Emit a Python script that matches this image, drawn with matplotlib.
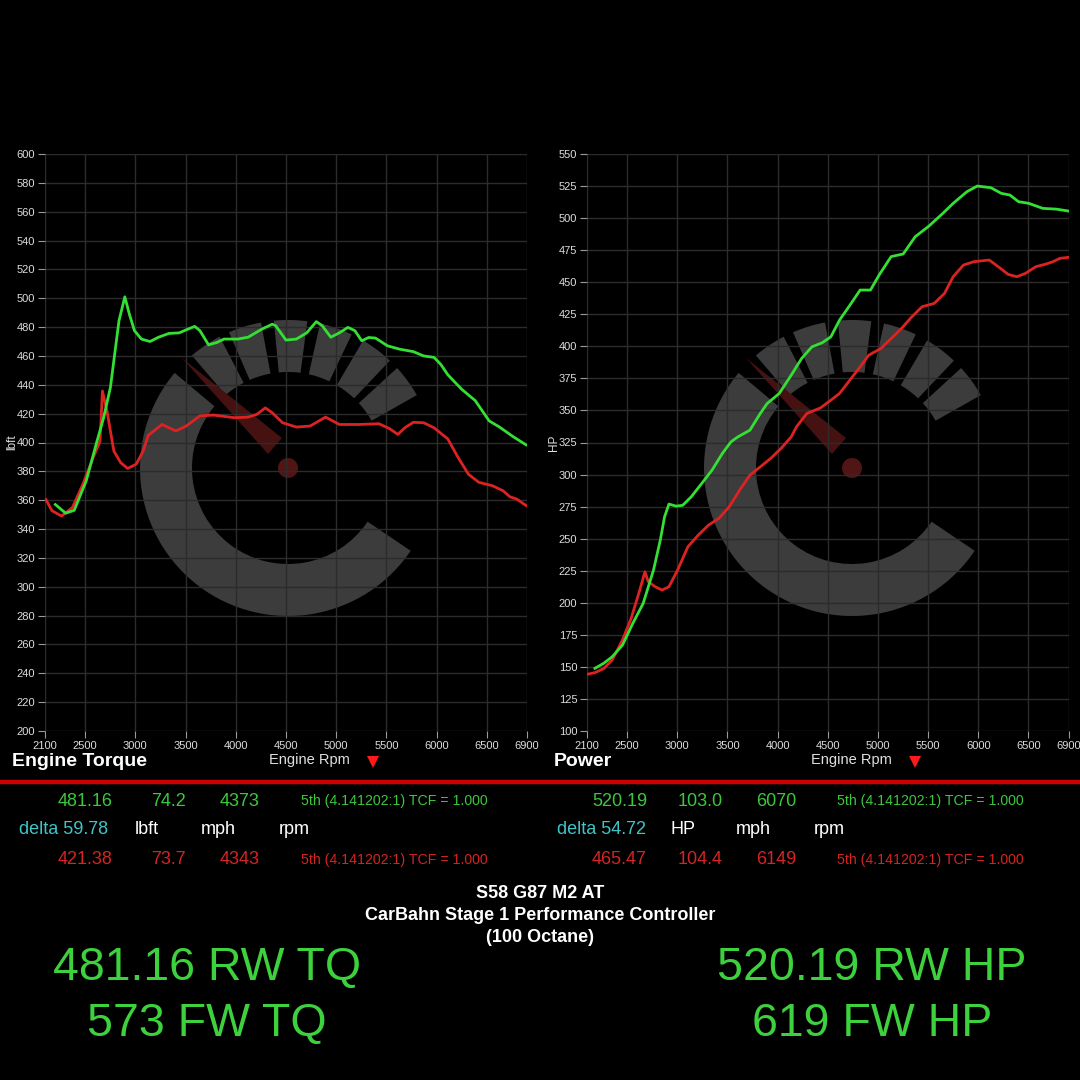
import matplotlib
matplotlib.use("Agg")
import matplotlib.pyplot as plt
from matplotlib import font_manager
from matplotlib.patches import Wedge, Circle, Polygon
import numpy as np

# ---------------- data ----------------
rpm_ticks = [2100, 2500, 3000, 3500, 4000, 4500, 5000, 5500, 6000, 6500, 6900]
tq_ticks = list(range(200, 601, 20))
hp_ticks = list(range(100, 551, 25))

tq_green_rpm = [2203, 2306, 2391, 2511, 2614, 2683, 2751, 2837, 2895, 2940, 2991, 3060, 3146, 3231, 3334,
                3437, 3523, 3591, 3643, 3729, 3814, 3883, 4020, 4123, 4260, 4363, 4397, 4500, 4603, 4706,
                4802, 4860, 4946, 5031, 5117, 5186, 5254, 5323, 5391, 5511, 5631, 5768, 5871, 5974, 6043,
                6111, 6248, 6385, 6523, 6626, 6763, 6890]
tq_green = [357, 351, 353, 373.5, 400, 417, 438, 484.5, 501, 489, 477.5, 471.7, 470, 473, 475.6,
            476, 478.6, 480.5, 477.5, 467.7, 469.4, 471.7, 471.7, 473, 478.6, 482, 481, 471, 471.7, 476,
            483.8, 481, 473, 476, 479.8, 477.5, 470.5, 472.8, 472.4, 467, 464.7, 463, 460, 459, 454,
            447, 437, 429, 415, 410.7, 404, 398.4]

tq_red_rpm = [2110, 2168, 2264, 2374, 2477, 2580, 2648, 2672, 2717, 2786, 2854, 2923, 3009, 3077, 3129,
              3266, 3403, 3506, 3643, 3780, 3986, 4123, 4209, 4294, 4363, 4466, 4603, 4740, 4894, 5031,
              5220, 5426, 5529, 5614, 5683, 5768, 5871, 5974, 6111, 6214, 6317, 6420, 6557, 6660, 6729,
              6797, 6893]
tq_red = [360.4, 352.8, 349, 355, 371, 389.6, 401, 435.7, 421.8, 394, 386, 382, 385, 394, 405,
          412.5, 408, 411.4, 418.5, 419, 417.2, 417.6, 419.5, 424, 420.6, 413.7, 410.7, 411.4, 417.6, 412.5,
          412.5, 413, 409.7, 405.6, 410.2, 414, 413.7, 410.2, 402.5, 389.6, 378, 372.4, 370, 366.6, 362.4,
          360.8, 356.2]

hp_green_rpm = [2179, 2265, 2351, 2454, 2557, 2660, 2763, 2831, 2873, 2917, 2986, 3054, 3140, 3243, 3346,
                3449, 3535, 3604, 3724, 3827, 3896, 4016, 4136, 4239, 4342, 4445, 4531, 4617, 4720, 4823,
                4926, 5012, 5132, 5252, 5372, 5509, 5647, 5750, 5887, 5990, 6127, 6230, 6316, 6402, 6505,
                6643, 6780, 6900]
hp_green = [148.9, 152.7, 157.9, 167, 184, 199.5, 225.5, 249, 267, 277, 275.4, 276, 282.7, 293, 303.4,
            316.4, 325.5, 329.4, 334.6, 347.6, 355.4, 363.2, 377.5, 390.5, 399.6, 402.8, 407.4, 420.4, 432, 443.9,
            443.9, 455.6, 470, 472, 485.5, 493.8, 503.7, 511.5, 520.6, 525, 523.7, 519.3, 518, 512.8, 511.5,
            507.6, 507, 505.5]

hp_red_rpm = [2100, 2179, 2265, 2351, 2454, 2540, 2626, 2677, 2711, 2780, 2849, 2917, 3003, 3106, 3209,
              3312, 3415, 3518, 3621, 3724, 3827, 3930, 4033, 4136, 4188, 4291, 4428, 4531, 4617, 4720,
              4823, 4909, 5029, 5132, 5235, 5338, 5441, 5561, 5664, 5750, 5853, 5956, 6110, 6213, 6299,
              6385, 6471, 6574, 6677, 6745, 6814, 6900]
hp_red = [144.2, 145.5, 148.6, 155.3, 171, 187.8, 209.9, 224.2, 216.4, 212.5, 209.9, 212.5, 225.5, 243.7, 252.8,
          260.6, 265.8, 274.9, 287.8, 299.5, 306, 312.5, 320.3, 329.4, 337.2, 347.6, 352, 358, 363.2, 373.6,
          384, 393.1, 398.3, 406.1, 413.9, 423, 430.9, 433.5, 441.3, 454.3, 463.4, 466, 467.3, 461.3, 456.1,
          454.3, 456.9, 462.1, 464.2, 466, 468.6, 469.4]

tq_row_green = ["481.16", "74.2", "4373", "5th (4.141202:1) TCF = 1.000"]
tq_row_units = ["delta 59.78", "lbft", "mph", "rpm"]
tq_row_red = ["421.38", "73.7", "4343", "5th (4.141202:1) TCF = 1.000"]
hp_row_green = ["520.19", "103.0", "6070", "5th (4.141202:1) TCF = 1.000"]
hp_row_units = ["delta 54.72", "HP", "mph", "rpm"]
hp_row_red = ["465.47", "104.4", "6149", "5th (4.141202:1) TCF = 1.000"]
center_lines = ["S58 G87 M2 AT", "CarBahn Stage 1 Performance Controller", "(100 Octane)"]
big_left = ["481.16 RW TQ", "573 FW TQ"]
big_right = ["520.19 RW HP", "619 FW HP"]

# ---------------- style ----------------
GREEN = "#33e033"
RED = "#dd2222"
TXT_GREEN = "#3cc83c"
TXT_RED = "#d42424"
CYAN = "#40c4c8"
BIG_GREEN = "#3dd23d"
GRID = "#2c2c2c"
WM = "#3c3c3c"

names = {f.name for f in font_manager.fontManager.ttflist}
NARROW = "Liberation Sans Narrow" if "Liberation Sans Narrow" in names else None
SANS = "Liberation Sans" if "Liberation Sans" in names else "DejaVu Sans"
narrow_family = NARROW or SANS

W = H = 1080
fig = plt.figure(figsize=(10.8, 10.8), dpi=100, facecolor="black")

def fx(px):
    return px / W

def fy(py):
    return 1 - py / H

# background overlay axes (pixel coordinates, y up)
bg = fig.add_axes([0, 0, 1, 1], zorder=0)
bg.set_xlim(0, W)
bg.set_ylim(0, H)
bg.axis("off")
bg.set_facecolor("black")

def watermark(cx, cy_img):
    cy = H - cy_img
    r_out, width = 148, 52
    bg.add_patch(Wedge((cx, cy), r_out, 140, 326, width=width, color=WM, lw=0))
    for c in [36, 53, 71, 89, 107, 124]:
        bg.add_patch(Wedge((cx, cy), r_out, c - 6.5, c + 6.5, width=width, color=WM, lw=0))
    # needle
    tip = (cx - 106, cy + 110)
    bg.add_patch(Polygon([tip, (cx - 6, cy + 30), (cx - 20, cy + 14)], closed=True,
                         color="#451111", lw=0))
    bg.add_patch(Circle((cx, cy), 10, color="#521515", lw=0))

watermark(288, 468)
watermark(852, 468)

# separator red line and triangles
bg.plot([0, W], [H - 782, H - 782], color="#cc0000", lw=3.2, solid_capstyle="butt")
bg.plot([373, 915], [H - 762, H - 762], ls="none", marker="v", ms=9, color="#ff1a1a", mew=0)

def setup_axes(rect, ylo, yhi, yticks, ylabel):
    ax = fig.add_axes(rect, zorder=1)
    ax.set_facecolor("none")
    ax.set_xlim(2100, 6900)
    ax.set_ylim(ylo, yhi)
    ax.set_xticks(rpm_ticks)
    ax.set_xticklabels([str(t) for t in rpm_ticks])
    ax.set_yticks(yticks)
    ax.set_yticklabels([str(t) for t in yticks])
    ax.grid(True, color=GRID, lw=1.0)
    for s in ax.spines.values():
        s.set_visible(False)
    ax.tick_params(colors="#9a9a9a", length=5, width=0.8, labelcolor="#dddddd",
                   labelsize=9 if NARROW else 8, pad=2)
    for lab in ax.get_xticklabels() + ax.get_yticklabels():
        lab.set_family(narrow_family)
    ax.set_ylabel(ylabel, color="#dddddd", fontsize=8.5, family=SANS, labelpad=2)
    return ax

ax1 = setup_axes([fx(45), fy(731), fx(527) - fx(45), fy(154) - fy(731)], 200, 600, tq_ticks, "lbft")
ax1.plot(tq_red_rpm, tq_red, color=RED, lw=2.0, zorder=3)
ax1.plot(tq_green_rpm, tq_green, color=GREEN, lw=2.0, zorder=4)
ax1.yaxis.set_label_coords((12 - 45) / 482, 0.5)

ax2 = setup_axes([fx(587), fy(731), fx(1068.5) - fx(587), fy(154) - fy(731)], 100, 550, hp_ticks, "HP")
ax2.plot(hp_red_rpm, hp_red, color=RED, lw=2.0, zorder=3)
ax2.plot(hp_green_rpm, hp_green, color=GREEN, lw=2.0, zorder=4)
ax2.yaxis.set_label_coords((554 - 587) / 481.5, 0.5)
for ax in (ax1, ax2):
    ax.yaxis.label.set_va("center")

# titles under axes
fig.text(fx(12), fy(762), "Engine Torque", color="white", fontsize=14, weight="bold",
         family=SANS, va="center", ha="left")
fig.text(fx(309), fy(760), "Engine Rpm", color="#e0e0e0", fontsize=10.5, family=SANS,
         va="center", ha="center")
fig.text(fx(554), fy(762), "Power", color="white", fontsize=14, weight="bold",
         family=SANS, va="center", ha="left")
fig.text(fx(851), fy(760), "Engine Rpm", color="#e0e0e0", fontsize=10.5, family=SANS,
         va="center", ha="center")

# data rows
NUM_FS = 13
TCF_FS = 11.5 if NARROW else 10.2

def row(y, vals, color, xs, aligns, tcf_x):
    for v, x, a in zip(vals[:3], xs, aligns):
        fig.text(fx(x), fy(y), v, color=color, fontsize=NUM_FS, family=SANS, ha=a, va="center")
    fig.text(fx(tcf_x), fy(y), vals[3], color=color, fontsize=TCF_FS, family=narrow_family,
             ha="left", va="center")

def units(y, vals, xs):
    cols = [CYAN, "white", "white", "white"]
    for v, x, c in zip(vals, xs, cols):
        fig.text(fx(x), fy(y), v, color=c, fontsize=NUM_FS, family=SANS, ha="left", va="center")

# torque side
row(801, tq_row_green, TXT_GREEN, [113, 168, 240], ["right", "center", "center"], 301)
row(860, tq_row_red, TXT_RED, [113, 168, 240], ["right", "center", "center"], 301)
units(829, tq_row_units, [19, 135, 201, 279])

# power side
row(801, hp_row_green, TXT_GREEN, [647, 700, 776], ["right", "center", "center"], 837)
row(860, hp_row_red, TXT_RED, [647, 700, 776], ["right", "center", "center"], 837)
units(829, hp_row_units, [557, 671, 736, 814])

# centre title block
for line, y in zip(center_lines, [893, 915, 938]):
    fig.text(0.5, fy(y), line, color="white", fontsize=13, weight="bold", family=SANS,
             ha="center", va="center")

# big summary text
for line, y in zip(big_left, [968, 1024]):
    fig.text(fx(207), fy(y), line, color=BIG_GREEN, fontsize=33.5, family=SANS,
             ha="center", va="center")
for line, y in zip(big_right, [968, 1024]):
    fig.text(fx(872), fy(y), line, color=BIG_GREEN, fontsize=33.5, family=SANS,
             ha="center", va="center")

fig.savefig("out.png", dpi=100, facecolor="black")
